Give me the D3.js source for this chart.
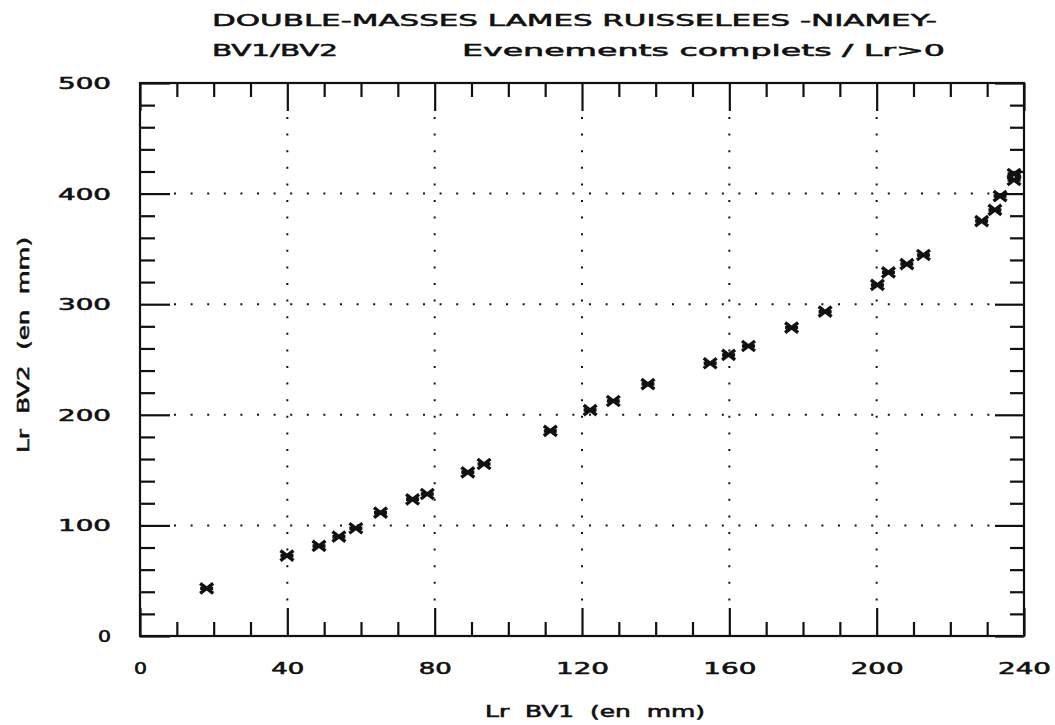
<!DOCTYPE html>
<html>
<head>
<meta charset="utf-8">
<script src="https://cdn.jsdelivr.net/npm/d3@7"></script>
<style>
  body { margin: 0; background: #fff; }
  text { font-family: "DejaVu Sans", sans-serif; fill: #111; stroke: #111; stroke-width: 0.55px; }
</style>
</head>
<body>
<svg width="1055" height="725"></svg>
<script>
// Lr BV1 (mm) / Lr BV2 (mm)
var lrBV1 = [18.1, 39.9, 48.6, 54.0, 58.6, 65.3, 74.0, 78.0, 89.0, 93.4,
             111.4, 122.2, 128.5, 137.9, 154.8, 159.8, 165.2, 176.9, 186.0,
             200.2, 203.2, 208.2, 212.7, 228.5, 232.1, 233.5, 237.3, 237.3];
var lrBV2 = [43.1, 72.6, 81.4, 89.8, 97.4, 111.5, 123.6, 128.4, 148.0, 155.5,
             185.4, 204.3, 212.5, 227.8, 246.6, 254.1, 262.2, 278.8, 293.2,
             317.4, 328.8, 336.3, 344.5, 375.2, 385.2, 397.8, 417.7, 412.3];

var xMajor = [0, 40, 80, 120, 160, 200, 240];
var yMajor = [0, 100, 200, 300, 400, 500];
var xGrid = [40, 80, 120, 160, 200];
var yGrid = [100, 200, 300, 400];
var xMinor = d3.range(0, 241, 10).filter(function(v) { return v % 40; });
var yMinor = d3.range(0, 501, 20).filter(function(v) { return v % 100; });

var title1 = "DOUBLE-MASSES LAMES RUISSELEES -NIAMEY-";
var title2a = "BV1/BV2";
var title2b = "Evenements complets / Lr>0";
var xTitle = "Lr  BV1  (en  mm)";
var yTitle = "Lr  BV2  (en  mm)";

var svg = d3.select("svg"),
    margin = {top: 83, right: 31, bottom: 89, left: 140},
    width = +svg.attr("width") - margin.left - margin.right,
    height = +svg.attr("height") - margin.top - margin.bottom;

var x = d3.scaleLinear().domain([0, 240]).range([0, width]),
    y = d3.scaleLinear().domain([0, 500]).range([height, 0]);

var g = svg.append("g")
    .attr("transform", "translate(" + margin.left + "," + margin.top + ")");

// dotted grid
g.selectAll(".vgrid").data(xGrid).enter().append("line")
    .attr("x1", x).attr("x2", x)
    .attr("y1", 28).attr("y2", height - 28)
    .attr("stroke", "#111").attr("stroke-width", 2)
    .attr("stroke-dasharray", "2,14.6").attr("stroke-dashoffset", -6);
g.selectAll(".hgrid").data(yGrid).enter().append("line")
    .attr("y1", y).attr("y2", y)
    .attr("x1", 30).attr("x2", width - 29)
    .attr("stroke", "#111").attr("stroke-width", 2)
    .attr("stroke-dasharray", "2,14.6").attr("stroke-dashoffset", -4);

// inward ticks on all four sides
function tickAxis(axis, tr, size) {
  var a = g.append("g").attr("class", "ticks")
      .attr("transform", tr)
      .call(axis.tickSize(size).tickFormat(""));
  a.select(".domain").remove();
  a.selectAll("line").attr("stroke", "#111").attr("stroke-width", 2.2);
}
tickAxis(d3.axisBottom(x).tickValues(xMinor), "translate(0," + height + ")", -14);
tickAxis(d3.axisBottom(x).tickValues(xMajor), "translate(0," + height + ")", -28);
tickAxis(d3.axisTop(x).tickValues(xMinor), "translate(0,0)", -14);
tickAxis(d3.axisTop(x).tickValues(xMajor), "translate(0,0)", -28);
tickAxis(d3.axisLeft(y).tickValues(yMinor), "translate(0,0)", -15);
tickAxis(d3.axisLeft(y).tickValues(yMajor), "translate(0,0)", -30);
tickAxis(d3.axisRight(y).tickValues(yMinor), "translate(" + width + ",0)", -14);
tickAxis(d3.axisRight(y).tickValues(yMajor), "translate(" + width + ",0)", -29);

// frame
g.append("rect")
    .attr("width", width).attr("height", height)
    .attr("fill", "none").attr("stroke", "#111").attr("stroke-width", 2.2);

// tick labels
function labelLen(s) { return 13 + (s.length - 1) * 20; }

var xAx = g.append("g")
    .attr("transform", "translate(0," + height + ")")
    .call(d3.axisBottom(x).tickValues(xMajor).tickSize(0).tickPadding(0));
xAx.select(".domain").remove();
xAx.selectAll("text")
    .attr("y", 38).attr("dy", 0)
    .attr("font-size", 15).attr("font-family", "DejaVu Sans")
    .attr("textLength", function(d) { return labelLen(String(d)); })
    .attr("lengthAdjust", "spacingAndGlyphs");

var yAx = g.append("g")
    .call(d3.axisLeft(y).tickValues(yMajor).tickSize(0).tickPadding(0));
yAx.select(".domain").remove();
yAx.selectAll("text")
    .attr("x", -29).attr("dy", 5.5)
    .attr("font-size", 15).attr("font-family", "DejaVu Sans")
    .attr("textLength", function(d) { return labelLen(String(d)); })
    .attr("lengthAdjust", "spacingAndGlyphs");

// markers
var star = "M-6.5,-5L6.5,5M-6.5,5L6.5,-5M-6.5,0L6.5,0";
g.selectAll(".pt").data(d3.range(lrBV1.length)).enter().append("path")
    .attr("class", "pt")
    .attr("transform", function(i) { return "translate(" + x(lrBV1[i]) + "," + y(lrBV2[i]) + ")"; })
    .attr("d", star)
    .attr("fill", "none").attr("stroke", "#111").attr("stroke-width", 3.4);

// titles
svg.append("text").attr("x", 212).attr("y", 26)
    .attr("font-size", 16).attr("textLength", 725).attr("lengthAdjust", "spacingAndGlyphs")
    .text(title1);
svg.append("text").attr("x", 212).attr("y", 56)
    .attr("font-size", 16).attr("textLength", 126).attr("lengthAdjust", "spacingAndGlyphs")
    .text(title2a);
svg.append("text").attr("x", 462).attr("y", 56)
    .attr("font-size", 16).attr("textLength", 483).attr("lengthAdjust", "spacingAndGlyphs")
    .text(title2b);

svg.append("text")
    .attr("x", 485).attr("y", 717)
    .attr("font-size", 15).style("white-space", "pre")
    .attr("textLength", 220).attr("lengthAdjust", "spacingAndGlyphs")
    .text(xTitle);

svg.append("text")
    .attr("transform", "translate(29," + (345 + 108) + ") rotate(-90)")
    .attr("font-size", 15).style("white-space", "pre")
    .attr("textLength", 216).attr("lengthAdjust", "spacingAndGlyphs")
    .text(yTitle);
</script>
</body>
</html>
